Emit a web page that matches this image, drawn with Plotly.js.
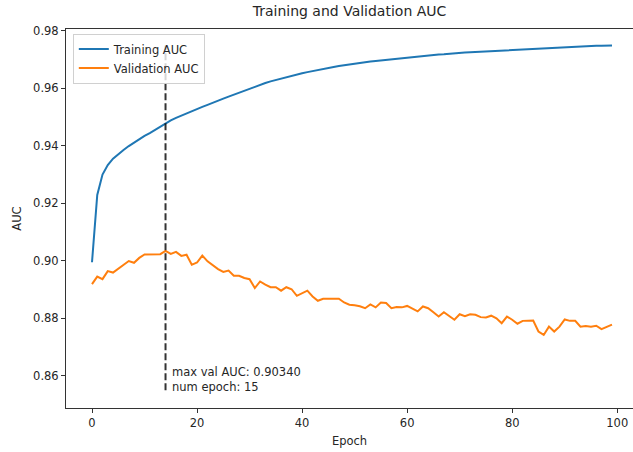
<!DOCTYPE html>
<html>
<head>
<meta charset="utf-8">
<script src="https://cdn.plot.ly/plotly-3.0.1.min.js"></script>
<style>html,body{margin:0;padding:0;background:#fff;}#chart{width:633px;height:452px;}</style>
</head>
<body>
<div id="chart"></div>
<script>
const epochs = Array.from({length: 100}, (_, i) => i);

const trainingAUC = [
  0.8995, 0.9229, 0.9300, 0.9333, 0.9355, 0.9371, 0.9385, 0.9399, 0.9411, 0.9423,
  0.9434, 0.9444, 0.9455, 0.9466, 0.9478, 0.9488, 0.9497, 0.9505, 0.9513, 0.9520,
  0.9527, 0.9535, 0.9542, 0.9550, 0.9557, 0.9564, 0.9571, 0.9578, 0.9585, 0.9592,
  0.9599, 0.9606, 0.9612, 0.9618, 0.9624, 0.9629, 0.9634, 0.9639, 0.9643, 0.9647,
  0.9652, 0.9656, 0.9660, 0.9664, 0.9667, 0.9671, 0.9674, 0.9677, 0.9680, 0.9683,
  0.9686, 0.9688, 0.9690, 0.9693, 0.9695, 0.9697, 0.9699, 0.9701, 0.9703, 0.9705,
  0.9707, 0.9709, 0.9710, 0.9712, 0.9714, 0.9715, 0.9717, 0.9718, 0.9720, 0.9721,
  0.9722, 0.9724, 0.9725, 0.9726, 0.9727, 0.9729, 0.9730, 0.9731, 0.9732, 0.9733,
  0.9734, 0.9735, 0.9736, 0.9737, 0.9738, 0.9739, 0.9740, 0.9741, 0.9742, 0.9743,
  0.9744, 0.9744, 0.9745, 0.9746, 0.9746, 0.9747, 0.9748, 0.9748, 0.9749, 0.9749
];

const validationAUC = [
  0.8919, 0.8945, 0.8936, 0.8964, 0.8959, 0.8973, 0.8988, 0.8999, 0.8993, 0.9010,
  0.9022, 0.9022, 0.9021, 0.9023, 0.9034, 0.9024, 0.9031, 0.9017, 0.9021, 0.8986,
  0.8994, 0.9018, 0.8998, 0.8984, 0.8971, 0.8961, 0.8966, 0.8948, 0.8948, 0.8940,
  0.8936, 0.8905, 0.8928, 0.8917, 0.8908, 0.8908, 0.8896, 0.8908, 0.8901, 0.8878,
  0.8887, 0.8896, 0.8876, 0.8861, 0.8868, 0.8868, 0.8870, 0.8868, 0.8855, 0.8847,
  0.8845, 0.8842, 0.8835, 0.8848, 0.8838, 0.8855, 0.8853, 0.8835, 0.8839, 0.8838,
  0.8843, 0.8832, 0.8824, 0.8841, 0.8835, 0.8821, 0.8806, 0.8821, 0.8809, 0.8795,
  0.8814, 0.8807, 0.8814, 0.8812, 0.8804, 0.8803, 0.8809, 0.8800, 0.8783, 0.8806,
  0.8795, 0.8781, 0.8791, 0.8791, 0.8792, 0.8754, 0.8742, 0.8771, 0.8754, 0.8771,
  0.8796, 0.8791, 0.8791, 0.8771, 0.8773, 0.8771, 0.8774, 0.8762, 0.8771, 0.8778
];

const xTicks = [0, 20, 40, 60, 80, 100];
const yTicks = [0.86, 0.88, 0.90, 0.92, 0.94, 0.96, 0.98];
const seriesNames = ["Training AUC", "Validation AUC"];
const markerLow = 0.855;

// best epoch derived from data
let bestIdx = 0;
validationAUC.forEach((v, i) => { if (v > validationAUC[bestIdx]) bestIdx = i; });
const bestVal = 0.90340;
const bestEpochLabel = bestIdx + 1;
const trainMax = Math.max(...trainingAUC);

const font = "DejaVu Sans, sans-serif";
const traces = [
  {x: epochs, y: trainingAUC, type: "scatter", mode: "lines", name: seriesNames[0],
   line: {color: "#1f77b4", width: 2}},
  {x: epochs, y: validationAUC, type: "scatter", mode: "lines", name: seriesNames[1],
   line: {color: "#ff7f0e", width: 2}},
  {x: [epochs[bestIdx], epochs[bestIdx]], y: [markerLow, trainMax], type: "scatter", mode: "lines",
   showlegend: false, line: {color: "rgba(0,0,0,0.8)", width: 2, dash: "7px,3px"}}
];

const layout = {
  width: 633, height: 452,
  margin: {l: 66, r: 0, t: 29, b: 44},
  paper_bgcolor: "#fff", plot_bgcolor: "#fff",
  font: {family: font, size: 11.5, color: "#262626"},
  title: {text: "Training and Validation AUC", font: {family: font, size: 14, color: "#262626"},
          x: 0.5, xref: "paper", y: 1, yref: "container", yanchor: "top", pad: {t: 6}},
  showlegend: true,
  legend: {x: 0.012, y: 0.988, xanchor: "left", yanchor: "top",
           bgcolor: "rgba(255,255,255,0.8)", bordercolor: "#d0d0d0", borderwidth: 1,
           font: {family: font, size: 11.5, color: "#262626"}, tracegroupgap: 0, itemwidth: 30},
  xaxis: {range: [-4.95, 103.0], tickvals: xTicks, ticktext: xTicks.map(String),
          showgrid: false, zeroline: false, showline: true, linecolor: "#333", linewidth: 1,
          mirror: true, ticks: "outside", ticklen: 4, tickcolor: "#333",
          title: {text: "Epoch", font: {family: font, size: 11.5}, standoff: 8}},
  yaxis: {range: [0.8488, 0.9806], tickvals: yTicks, ticktext: yTicks.map(v => v.toFixed(2)),
          showgrid: false, zeroline: false, showline: true, linecolor: "#333", linewidth: 1,
          mirror: false, ticks: "outside", ticklen: 4, tickcolor: "#333",
          title: {text: "AUC", font: {family: font, size: 11.5}, standoff: 9}},
  annotations: [{
    x: epochs[bestIdx] + 1, y: markerLow, xref: "x", yref: "y",
    text: "max val AUC: " + bestVal.toFixed(5) + "<br>num epoch: " + bestEpochLabel,
    showarrow: false, xanchor: "left", yanchor: "bottom", align: "left", yshift: -5,
    font: {family: font, size: 11.5, color: "#262626"}, borderpad: 0
  }]
};

Plotly.newPlot("chart", traces, layout, {staticPlot: true, displayModeBar: false});
</script>
</body>
</html>
